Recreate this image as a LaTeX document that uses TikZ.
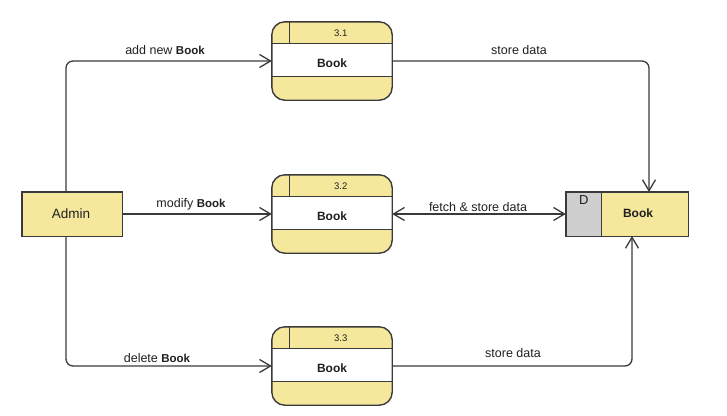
\documentclass[tikz,border=0pt]{standalone}
\usepackage{fontspec}
\setmainfont{Liberation Sans}
\usetikzlibrary{arrows.meta,calc}
\definecolor{procyellow}{HTML}{F5E89D}
\definecolor{storegray}{HTML}{CFCFCF}
\definecolor{edgegray}{HTML}{3A3A3A}
\definecolor{txt}{HTML}{202020}
\tikzset{
  procbox/.style={minimum width=120pt,minimum height=78pt,inner sep=0pt,fill=procyellow,rounded corners=13pt},
  flow/.style={draw=edgegray,line width=1.3pt,-{Straight Barb[length=11pt,width=13pt,line width=1.3pt]}},
  lbl/.style={text=txt,font=\fontsize{12.5}{14}\selectfont,inner sep=0pt},
  bk/.style={font=\fontsize{11.5}{13}\selectfont\bfseries},
  border/.style={draw=edgegray,line width=1.4pt}
}
\newcommand{\bkw}{{\fontsize{11.5}{13}\selectfont\bfseries Book}}
\begin{document}
\begin{tikzpicture}[x=1pt,y=-1pt]
\useasboundingbox (0,0) rectangle (727,415);
% Admin
\node (admin) [fill=procyellow,minimum width=100pt,minimum height=44pt,inner sep=0pt] at (72,214) {};
\draw[border] (admin.north west) rectangle (admin.south east);
\node (admintxt) [lbl,font=\fontsize{13.5}{15}\selectfont] at (71,214) {Admin};
% processes
\foreach \n/\y/\num in {p1/61/3.1,p2/214/3.2,p3/366/3.3}{
  \node (\n) [procbox] at (332,\y) {};
  \fill[white] ($(\n.north west)+(0,22)$) rectangle ($(\n.north east)+(0,55)$);
  \draw[edgegray,line width=1.3pt] ($(\n.north west)+(0,22)$) -- ($(\n.north east)+(0,22)$);
  \draw[edgegray,line width=1.3pt] ($(\n.north west)+(0,55)$) -- ($(\n.north east)+(0,55)$);
  \draw[edgegray,line width=1.3pt] ($(\n.north west)+(18,0)$) -- ($(\n.north west)+(18,22)$);
  \draw[border,rounded corners=13pt] (\n.north west) rectangle (\n.south east);
  \node (\n num) [lbl,font=\fontsize{9.5}{11}\selectfont] at ($(\n.north west)+(69,11.5)$) {\num};
  \node (\n txt) [lbl,bk,font=\fontsize{12}{14}\selectfont\bfseries] at ($(\n.center)+(0,2)$) {Book};
}
% data store
\node (ds) [minimum width=122pt,minimum height=44pt,inner sep=0pt] at (627,214) {};
\fill[storegray] (ds.north west) rectangle ($(ds.south west)+(36,0)$);
\fill[procyellow] ($(ds.north west)+(36,0)$) rectangle (ds.south east);
\draw[border] (ds.north west) rectangle (ds.south east);
\draw[edgegray,line width=1.3pt] ($(ds.north west)+(36,0)$) -- ($(ds.south west)+(36,0)$);
\node (dsd) [lbl,font=\fontsize{13}{15}\selectfont] at ($(ds.north west)+(18,8.5)$) {D};
\node (dstxt) [lbl,bk,font=\fontsize{12}{14}\selectfont\bfseries] at (638,213) {Book};
% connector anchors
\coordinate (a1) at (66,192);
\coordinate (a3) at (66,236);
\coordinate (d1) at (649,192);
\coordinate (d3) at (632,236);
% connectors
\draw[flow,rounded corners=7pt] (a1) |- (p1.west);
\draw[flow] (admin.east) -- (p2.west);
\draw[flow,rounded corners=7pt] (a3) |- (p3.west);
\draw[flow,rounded corners=7pt] (p1.east) -| (d1);
\draw[flow,{Straight Barb[length=11pt,width=13pt,line width=1.3pt]}-{Straight Barb[length=11pt,width=13pt,line width=1.3pt]}] (p2.east) -- (ds.west);
\draw[flow,rounded corners=7pt] (p3.east) -| (d3);
% labels
\node (l1) [lbl] at (165,50) {add new \bkw};
\node (l2) [lbl] at (191,204) {modify \bkw};
\node (l3) [lbl] at (157,358) {delete \bkw};
\node (l4) [lbl] at (519,50) {store data};
\node (l5) [lbl] at (478,207) {fetch \& store data};
\node (l6) [lbl] at (513,353) {store data};
\end{tikzpicture}
\end{document}
